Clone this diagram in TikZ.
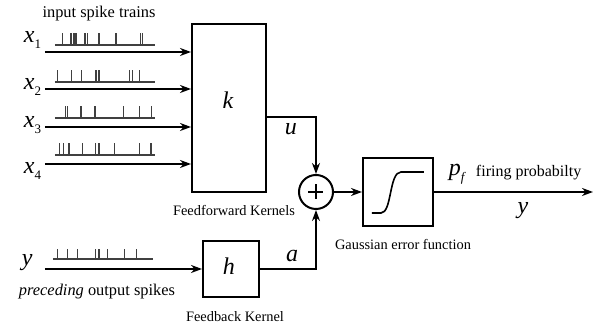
\documentclass[tikz,border=0pt]{standalone}
\usepackage{fontspec}
\setmainfont{Liberation Serif}
\usetikzlibrary{positioning,arrows.meta}
\newcommand{\lowidx}[1]{\raisebox{-3pt}{\fontsize{6.5}{6.5}\selectfont #1}}

\begin{document}
\begin{tikzpicture}[x=0.5pt,y=-0.5pt,>={Stealth[length=5.5pt,width=4pt]},line width=1pt,
    block/.style={draw,line width=1pt,inner sep=0pt},
    var/.style={inner sep=0pt,anchor=base,font=\fontsize{12}{12}\selectfont\itshape},
    caption/.style={inner sep=0pt,font=\fontsize{7.2}{8}\selectfont},
    bigcaption/.style={inner sep=0pt,font=\fontsize{8.2}{9}\selectfont},
    spike/.style={line width=0.6pt,black!75}]
  \useasboundingbox (0,0) rectangle (602,324);

  % blocks
  \node[block,minimum width=37pt,minimum height=84pt] (ff) at (229,108) {};
  \node[block,circle,minimum size=17pt] (sum) at (316,192) {};
  \node[block,minimum width=35pt,minimum height=34pt] (erf) at (398,192) {};
  \node[block,minimum size=28pt] (fb) at (231,269) {};
  \draw[line width=0.6pt] (sum.center) ++(-7.5,0) -- ++(15,0) (sum.center) ++(0,-7.5) -- ++(0,15);
  \draw[line width=0.8pt] (372,213) -- (381,213) .. controls (392,213) and (389,172) .. (401,172) -- (424,172);

  % captions
  \node[bigcaption] (trains) at (99,14) {input spike trains};
  \node[caption] (fflabel) [below=5.5pt of ff,xshift=2.5pt] {Feedforward Kernels};
  \node[caption] (erflabel) [below=5.5pt of erf,xshift=2.5pt] {Gaussian error function};
  \node[caption] (fblabel) [below=6.5pt of fb,xshift=2pt] {Feedback Kernel};
  \node[bigcaption] (prec) at (97,292) {\textit{preceding} output spikes};

  % input spike trains
  \foreach \yb/\ts in {45/{62.3,71,74,76,85,87.3,99,116,140.7,142.7},
                        82/{57.3,71.7,81.7,95.7,96.7,99,129.3,132.3,139.3},
                        118/{65.7,67.7,81,95,123.3,139.3,151.7},
                        155/{59.3,63.3,69,82.7,95.7,99,114.3,139.3,151}} {
    \draw[spike] (55,\yb) -- (155,\yb);
    \foreach \t in \ts \draw[spike] (\t,\yb) -- ++(0,-12);
  }
  \draw[spike] (53,259) -- (153,259);
  \foreach \t in {57.3,67.7,77.7,95.7,99,107.3,124.3,136.7}
    \draw[spike] (\t,259) -- ++(0,-10);

  % inputs
  \foreach \i/\yy in {1/52,2/89,3/127,4/164} {
    \coordinate (in\i) at (45,\yy);
    \draw[->] (in\i) -- (in\i -| ff.west);
  }
  \node[var,anchor=base west] (x1) at (23,43) {x\lowidx{\upshape 1}};
  \node[var,anchor=base west] (x2) at (23,90) {x\lowidx{\upshape 2}};
  \node[var,anchor=base west] (x3) at (23,128) {x\lowidx{\upshape 3}};
  \node[var,anchor=base west] (x4) at (23,174) {x\lowidx{\upshape 4}};
  \node[var,anchor=base west] (yin) at (21,266) {y};
  \coordinate (ystart) at (45,269);
  \draw[->] (ystart) -- (fb.west);

  % kernels to sum
  \node[var] (k) at (228,109) {k};
  \node[var] (h) at (229,275) {h};
  \coordinate (ubend) at (316,117);
  \coordinate (abend) at (316,269);
  \draw[->] (ubend -| ff.east) -- (ubend) -- (sum.north);
  \draw[->] (fb.east) -- (abend) -- (sum.south);
  \node[var] (u) at (291,135) {u};
  \node[var] (a) at (292,262) {a};

  % output
  \draw[->] (sum.east) -- (erf.west);
  \coordinate (yend) at (593,192);
  \draw[->] (erf.east) -- (yend);
  \node[var,anchor=base west] (pf) at (448,176) {p\lowidx{f}};
  \node[caption,font=\fontsize{8}{9}\selectfont,anchor=base west] (firing) at (475,177) {firing probabilty};
  \node[var] (yout) at (523,214) {y};
\end{tikzpicture}
\end{document}
